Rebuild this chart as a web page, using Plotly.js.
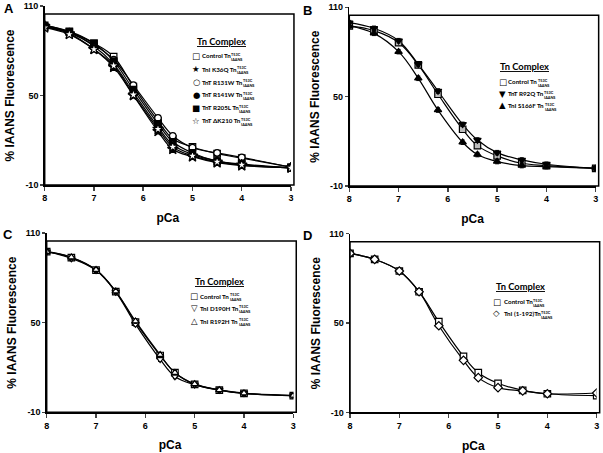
<!DOCTYPE html>
<html>
<head>
<meta charset="utf-8">
<script src="https://cdn.plot.ly/plotly-3.0.1.min.js"></script>
<style>html,body{margin:0;padding:0;background:#fff;}#chart{width:603px;height:453px;}</style>
</head>
<body>
<div id="chart"></div>
<script>
// ---------- DATA ----------
const pCa = [8, 7.5, 7, 6.6, 6.2, 5.7, 5.4, 5, 4.5, 4, 3];
const xTicks = [8, 7, 6, 5, 4, 3];
const yTicks = [-10, 50, 110];

// Panel A
const aControl = [96, 92.5, 85, 76, 56, 33, 21, 15.5, 11, 8, 2];
const aK36Q    = [96.5, 91.5, 81, 69, 50, 26, 14, 9, 5, 3, 1.5];
const aR131W   = [96, 92, 84, 74, 57, 35, 23, 15, 11.5, 8.5, 2];
const aR141W   = [97, 92.5, 83, 71, 52, 29, 17, 10.5, 6, 3.5, 1.5];
const aR205L   = [97, 93, 85, 73, 54, 31, 19, 11.5, 6, 4, 1.5];
const aDK210   = [95.5, 91, 81, 70, 50.5, 27.5, 15.5, 9.5, 5.5, 3.5, 1.5];

// Panel B
const bControl = [97.5, 94.3, 86.3, 71.3, 51.6, 28.1, 17.1, 10.2, 5.3, 3.7, 1.9];
const bR92Q    = [99.7, 95.9, 87.6, 71.7, 53.8, 31.4, 20.9, 12.4, 7.5, 4.6, 1.9];
const bS166F   = [97.5, 92.5, 80.2, 62.3, 41, 19.4, 11.1, 6.4, 3.7, 3, 1.9];

// Panel C
const cControl = [97.5, 93.5, 85.2, 70.7, 50.3, 28, 16.5, 8.7, 4.9, 2.7, 1.2];
const cD190H   = [97.5, 93, 85, 70.5, 49, 25.5, 14, 8.5, 4.9, 2.7, 1.2];
const cR192H   = [97.5, 93.8, 85.4, 71, 51, 28.5, 16.5, 9, 5, 2.8, 1.2];

// Panel D
const dControl = [96.8, 92.8, 85, 71.1, 51, 27.8, 16.8, 9.7, 5, 2.7, 1.4];
const dTnI192  = [96.8, 92.8, 85, 71.1, 48.3, 25.1, 13.5, 6.8, 4.6, 2.7, 3.2];

// Legend labels
const legendTitle = 'Tn Complex';
const supText = 'T53C';
const subText = 'IAANS';
const aNames = ['Control Tn', 'TnI K36Q Tn', 'TnT R131W Tn', 'TnT R141W Tn', 'TnT R205L Tn', 'TnT \u0394K210 Tn'];
const bNames = ['Control Tn', 'TnT R92Q Tn', 'TnI S166F Tn'];
const cNames = ['Control Tn', 'TnI D190H Tn', 'TnI R192H Tn'];
const dNames = ['Control Tn', 'TnI (1-192)Tn'];

// ---------- STYLE / LAYOUT ----------
const W = 603, H = 453;
const AX = "Liberation Sans, Arial, sans-serif";
const LG = "Lato, sans-serif";

const panels = [
  {id:'', label:'A', lab:[9,9], dom:[44.7,291,6,185], series:[
     {y:aControl, sym:'square', fill:'#fff', g:'\u25A1'},
     {y:aK36Q, sym:'star', fill:'#000', g:'\u2605'},
     {y:aR131W, sym:'circle', fill:'#fff', g:'\u25CB'},
     {y:aR141W, sym:'circle', fill:'#000', g:'\u25CF'},
     {y:aR205L, sym:'square', fill:'#000', g:'\u25A0'},
     {y:aDK210, sym:'star', fill:'#fff', g:'\u2606'}], names:aNames,
   leg:{title:[221,41], gx:196, tx:200.5, ys:[56,69,82,94.5,107.5,120.5]}},
  {id:'2', label:'B', lab:[307,10], dom:[349.3,595.7,7.3,186], series:[
     {y:bControl, sym:'square', fill:'#bbb', g:'\u25A1'},
     {y:bR92Q, sym:'triangle-down', fill:'#000', g:'\u25BC'},
     {y:bS166F, sym:'triangle-up', fill:'#000', g:'\u25B2'}], names:bNames,
   leg:{title:[524,66.5], gx:502.7, tx:507.3, ys:[81.5,93.5,105.5]}},
  {id:'3', label:'C', lab:[8,234], dom:[46.7,293.3,233,412.3], series:[
     {y:cControl, sym:'square', fill:'#fff', g:'\u25A1'},
     {y:cD190H, sym:'triangle-down', fill:'#fff', g:'\u25BD'},
     {y:cR192H, sym:'triangle-up', fill:'#fff', g:'\u25B3'}], names:cNames,
   leg:{title:[219,281.7], gx:194, tx:199.3, ys:[296,308,321]}},
  {id:'4', label:'D', lab:[307,235], dom:[350,596.7,233.7,412.7], series:[
     {y:dControl, sym:'square', fill:'#fff', g:'\u25A1'},
     {y:dTnI192, sym:'diamond', fill:'#fff', g:'\u25C7'}], names:dNames,
   leg:{title:[520,286.7], gx:496.7, tx:502.7, ys:[301.7,313.3]}}
];

// text measuring for legend fitting
const cv = document.createElement('canvas').getContext('2d');
function tw(str, size, weight, fam){ cv.font = weight+' '+size+'px '+fam; return cv.measureText(str).width; }
const entrySize = 7 * 29 / tw('Control Tn', 7, 'bold', 'Lato');
const titleSize = 10 * 49 / tw(legendTitle, 10, 'bold', 'Lato');

const traces = [];
const layout = {
  width: W, height: H, margin:{l:0,r:0,t:0,b:0},
  paper_bgcolor:'#fff', plot_bgcolor:'rgba(0,0,0,0)',
  showlegend:false, annotations:[], shapes:[]
};

panels.forEach(p => {
  const xa = 'x'+p.id, ya = 'y'+p.id;
  const xk = 'xaxis'+p.id, yk = 'yaxis'+p.id;
  layout[xk] = {
    domain:[p.dom[0]/W, p.dom[1]/W], anchor:ya, range:[8,3], autorange:false,
    tickvals:xTicks, ticktext:xTicks.map(String), ticks:'outside', ticklen:4, tickwidth:1.5,
    showline:true, linewidth:1.5, linecolor:'#000', showgrid:false, zeroline:false,
    tickfont:{family:AX, size:9, weight:'bold', color:'#000'},
    title:{text:'pCa', font:{family:AX, size:12, weight:'bold', color:'#000'}, standoff:11}
  };
  layout[yk] = {
    domain:[1-p.dom[3]/H, 1-p.dom[2]/H], anchor:xa, range:[-10,110], autorange:false,
    tickvals:yTicks, ticktext:yTicks.map(String), ticks:'outside', ticklen:3, tickwidth:1.5,
    showline:true, linewidth:1.5, linecolor:'#000', showgrid:false, zeroline:false,
    tickfont:{family:AX, size:9, weight:'bold', color:'#000'},
    title:{text:'% IAANS Fluorescence', font:{family:AX, size:12, weight:'bold', color:'#000'}, standoff:6}
  };
  // frame
  layout.shapes.push({type:'rect', xref:xa+' domain', yref:ya+' domain', x0:0, x1:1.012, y0:0, y1:0.955,
    line:{color:'#000', width:1.5}, fillcolor:'rgba(0,0,0,0)'});

  // curves then markers
  p.series.forEach(s => {
    traces.push({type:'scatter', mode:'lines', x:pCa, y:s.y, xaxis:xa, yaxis:ya,
      line:{color:'#000', width:1.2, shape:'spline', smoothing:1.1}, hoverinfo:'skip'});
  });
  p.series.forEach(s => {
    traces.push({type:'scatter', mode:'markers', x:pCa, y:s.y, xaxis:xa, yaxis:ya,
      marker:{symbol:s.sym, size:s.sym.indexOf('star')===0?8:6.5, color:s.fill, line:{color:'#000', width:1.2}},
      error_y:{type:'constant', value:1.5, color:'#000', thickness:1, width:2}});
  });

  // panel letter
  layout.annotations.push({xref:'paper', yref:'paper', x:p.lab[0]/W, y:1-p.lab[1]/H, text:'<b>'+p.label+'</b>',
    showarrow:false, xanchor:'center', yanchor:'middle', font:{family:AX, size:13, color:'#000'}});

  // legend title
  layout.annotations.push({xref:'paper', yref:'paper', x:p.leg.title[0]/W, y:1-p.leg.title[1]/H,
    text:'<b><u>'+legendTitle+'</u></b>', showarrow:false, xanchor:'center', yanchor:'middle',
    font:{family:LG, size:titleSize, color:'#000'}});
  // legend entries
  p.names.forEach((nm, i) => {
    const yy = 1 - p.leg.ys[i]/H;
    layout.annotations.push({xref:'paper', yref:'paper', x:p.leg.gx/W, y:yy, text:p.series[i].g,
      showarrow:false, xanchor:'center', yanchor:'middle', borderpad:0,
      font:{family:'DejaVu Sans', size:8.5, color:'#000'}});
    layout.annotations.push({xref:'paper', yref:'paper', x:p.leg.tx/W, y:yy, text:'<b>'+nm+'</b>',
      showarrow:false, xanchor:'left', yanchor:'middle', borderpad:0,
      font:{family:LG, size:entrySize, color:'#000'}});
    const w = tw(nm, entrySize, 'bold', 'Lato');
    layout.annotations.push({xref:'paper', yref:'paper', x:(p.leg.tx + w + 0.5)/W, y:yy - 1.2/H,
      text:'<b>'+supText+'<br>'+subText+'</b>', showarrow:false, xanchor:'left', yanchor:'middle',
      align:'left', borderpad:0, font:{family:LG, size:3.8, color:'#000'}});
  });
});

Plotly.newPlot('chart', traces, layout, {staticPlot:true, displayModeBar:false});
</script>
</body>
</html>
